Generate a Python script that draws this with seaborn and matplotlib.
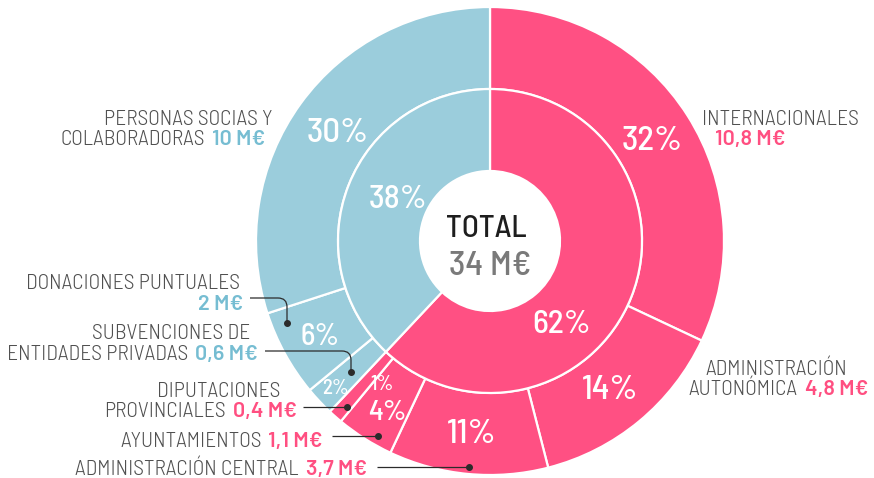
import numpy as np
import matplotlib
matplotlib.use("Agg")
import matplotlib.pyplot as plt
from matplotlib.path import Path
from matplotlib.patches import PathPatch
import seaborn as sns

# data
outer_names = [["INTERNACIONALES"],
               ["ADMINISTRACIÓN", "AUTONÓMICA"],
               ["ADMINISTRACIÓN CENTRAL"],
               ["AYUNTAMIENTOS"],
               ["DIPUTACIONES", "PROVINCIALES"],
               ["SUBVENCIONES DE", "ENTIDADES PRIVADAS"],
               ["DONACIONES PUNTUALES"],
               ["PERSONAS SOCIAS Y", "COLABORADORAS"]]
outer_pct = [32, 14, 11, 4, 1, 2, 6, 30]
outer_money = ["10,8 M€", "4,8 M€", "3,7 M€", "1,1 M€", "0,4 M€", "0,6 M€", "2 M€", "10 M€"]
outer_group = ["pub", "pub", "pub", "pub", "pub", "priv", "priv", "priv"]
inner_pct = [62, 38]
inner_group = ["pub", "priv"]
total_label = "TOTAL"
total_value = "34 M€"

sns.set_theme(style="white")
plt.rcParams["font.family"] = ["Barlow Semi Condensed", "Roboto Condensed", "DejaVu Sans"]
value_font = ["Barlow", "Roboto", "DejaVu Sans"]

W, H = 874, 478
pink, blue = "#FF5083", "#9BCDDC"
pink_txt, blue_txt = "#FF4F81", "#76BDD2"
col = {"pub": pink, "priv": blue}
txtcol = {"pub": pink_txt, "priv": blue_txt}
gray = "#505050"

fig = plt.figure(figsize=(W / 100, H / 100), dpi=100)
ax = fig.add_axes([0, 0, 1, 1])

cx, cy = 490, H - 241
R_out, R_mid, R_hole = 234, 152, 70

w_out, _ = ax.pie(outer_pct, radius=R_out, center=(cx, cy), startangle=90,
                  counterclock=False, colors=[col[g] for g in outer_group],
                  wedgeprops=dict(width=R_out - R_mid, edgecolor="white", linewidth=1.6))
w_in, _ = ax.pie(inner_pct, radius=R_mid, center=(cx, cy), startangle=90,
                 counterclock=False, colors=[col[g] for g in inner_group],
                 wedgeprops=dict(width=R_mid - R_hole, edgecolor="white", linewidth=1.6))
ax.set_xlim(0, W)
ax.set_ylim(0, H)
ax.set_aspect("auto")
ax.axis("off")


def polar(a_math, r):
    t = np.deg2rad(a_math)
    return cx + r * np.cos(t), cy + r * np.sin(t)


# percentage labels in the outer ring (None = middle of the wedge)
out_ang = [None, None, None, 211.4, 217.5, None, None, None]
out_r = [192, 189, 191, 198, 178, 212, 194, 188]
out_fs = [25, 25, 25, 21, 15, 15, 22, 25]
for w, p, a, r, fs in zip(w_out, outer_pct, out_ang, out_r, out_fs):
    am = (w.theta1 + w.theta2) / 2 if a is None else 90 - a
    x, y = polar(am, r)
    ax.text(x, y, f"{p}%", color="white", fontsize=fs, ha="center",
            va="center_baseline", fontweight=500)

# inner ring labels (62% sits off-centre in the reference)
in_pos = [(90 - 138.4, 108), (90 - 295.6, 102)]
for p, (a, r) in zip(inner_pct, in_pos):
    x, y = polar(a, r)
    ax.text(x, y, f"{p}%", color="white", fontsize=24, ha="center",
            va="center_baseline", fontweight=500)

ax.text(cx - 4, H - 237, total_label, color="#1E1E1E", fontsize=22.5, ha="center",
        va="baseline", fontweight=500)
ax.text(cx, H - 275, total_value, color="#7A7A7A", fontsize=25, ha="center",
        va="baseline", fontweight=500)

fig.canvas.draw()
rend = fig.canvas.get_renderer()
FS = 15.5
GAP = 7


def put(x, y, s, ha, value=False, **kw):
    if value:
        kw.update(fontweight=600, family=value_font)
    else:
        kw.update(fontweight=300, color=gray)
    t = ax.text(x, H - y, s, ha=ha, va="baseline", fontsize=FS, **kw)
    return t.get_window_extent(rend)


def name_value(x, y, name, value, c, ha):
    # name in light grey, value in bold colour, on one line
    if ha == "right":
        bb = put(x, y, value, "right", value=True, color=c)
        put(bb.x0 - GAP, y, name, "right")
    else:
        bb = put(x, y, name, "left")
        put(bb.x1 + GAP, y, value, "left", value=True, color=c)


# Internacionales
put(702, 125, outer_names[0][0], "left")
put(715, 145, outer_money[0], "left", value=True, color=txtcol["pub"])
# Administración autonómica
put(705, 375, outer_names[1][0], "left")
name_value(868, 395, outer_names[1][1], outer_money[1], txtcol["pub"], "right")
# Administración central
name_value(367, 475, outer_names[2][0], outer_money[2], txtcol["pub"], "right")
# Ayuntamientos
name_value(323, 447, outer_names[3][0], outer_money[3], txtcol["pub"], "right")
# Diputaciones
put(280, 397, outer_names[4][0], "right")
name_value(297, 417, outer_names[4][1], outer_money[4], txtcol["pub"], "right")
# Subvenciones
put(250, 339, outer_names[5][0], "right")
name_value(258, 360, outer_names[5][1], outer_money[5], txtcol["priv"], "right")
# Donaciones
put(240, 289, outer_names[6][0], "right")
put(243, 310, outer_money[6], "right", value=True, color=txtcol["priv"])
# Personas socias
put(273, 125, outer_names[7][0], "right")
name_value(265, 145, outer_names[7][1], outer_money[7], txtcol["priv"], "right")

# leader lines: start, elbow x (or None), dot
leaders = [((250, 298), 287, (287, 323)),
           ((265, 351), 351, (351, 372)),
           ((303, 407), None, (347, 407)),
           ((332, 436), None, (378, 436)),
           ((377, 467), None, (469, 467))]
lc = "#2B2B2B"
for (x0, y0), xe, (xd, yd) in leaders:
    if xe is None:
        verts = [(x0, H - y0), (xd, H - yd)]
        codes = [Path.MOVETO, Path.LINETO]
    else:
        rr = 9
        verts = [(x0, H - y0), (xe - rr, H - y0), (xe, H - y0), (xe, H - y0 - rr), (xd, H - yd)]
        codes = [Path.MOVETO, Path.LINETO, Path.CURVE3, Path.CURVE3, Path.LINETO]
    ax.add_patch(PathPatch(Path(verts, codes), fill=False, edgecolor=lc, linewidth=0.9))
    ax.plot(xd, H - yd, "o", color=lc, markersize=4)

fig.savefig("out.png", dpi=100)
